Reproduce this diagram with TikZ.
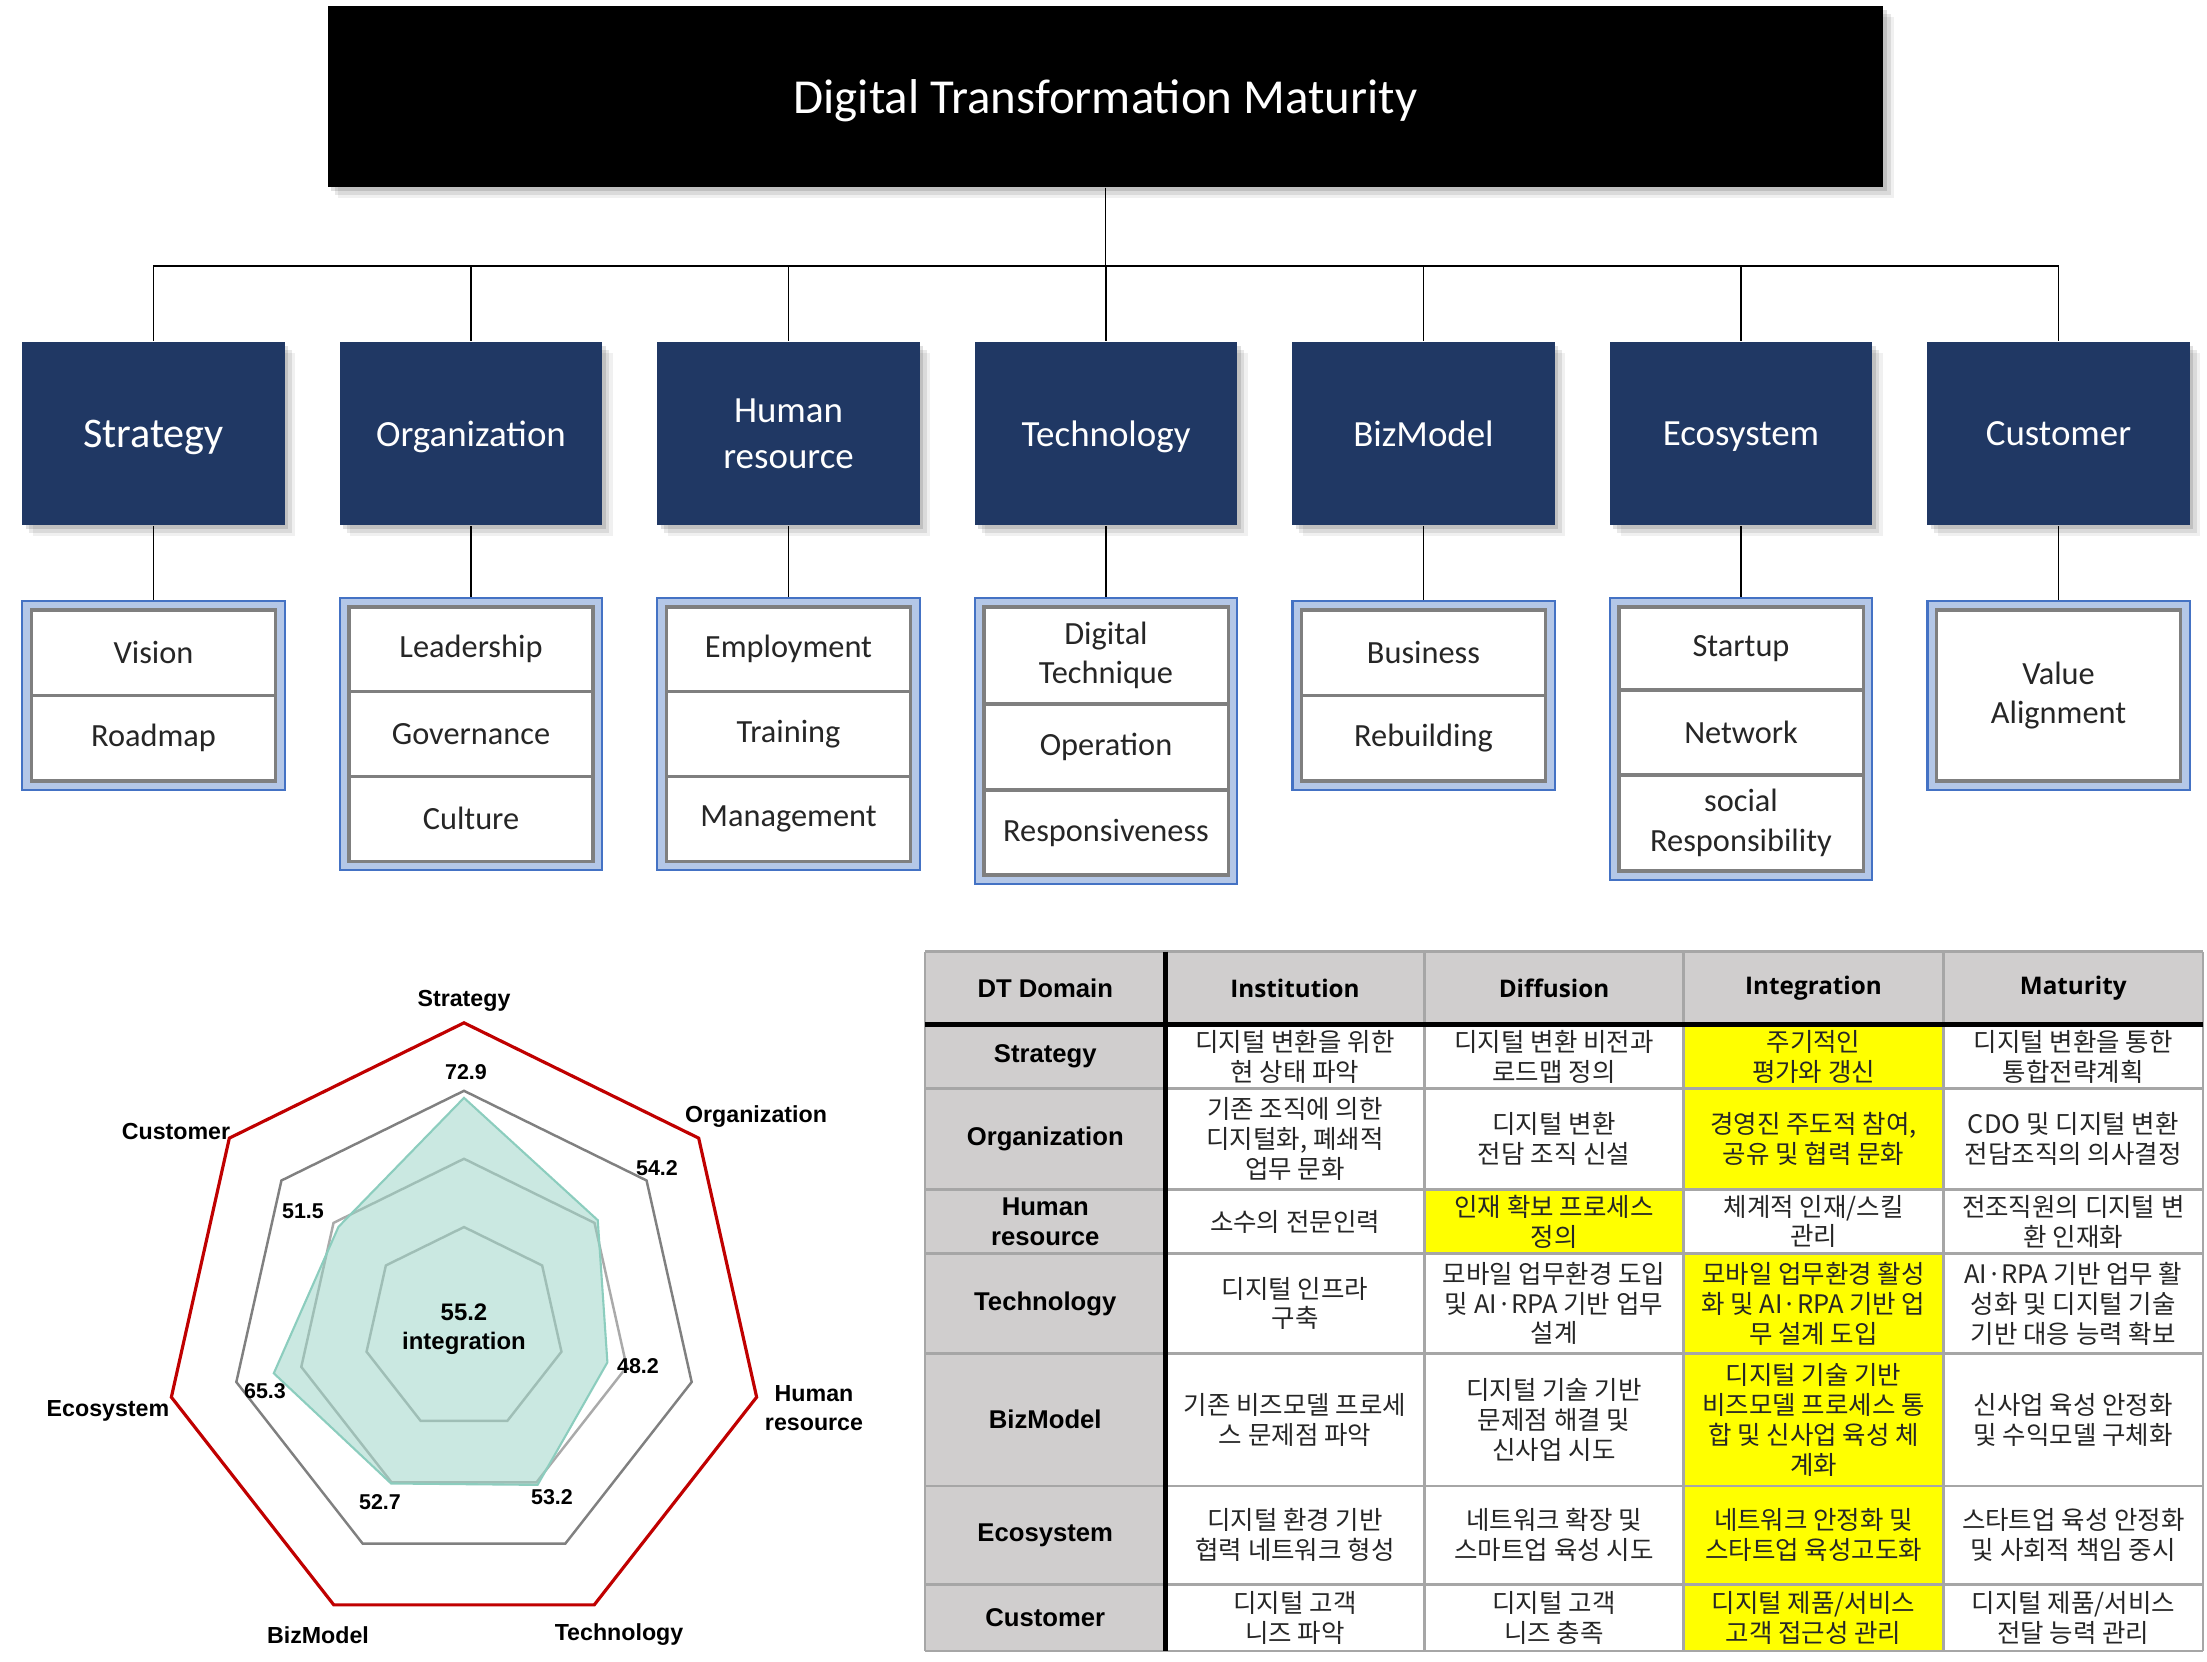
\documentclass[tikz,border=0pt]{standalone}
\usepackage{fontspec}
\setmainfont{Carlito}
\newfontfamily\farial{Liberation Sans}
\newfontfamily\fopen{Open Sans}
\newfontfamily\fkr{Noto Sans CJK KR}
\usetikzlibrary{calc,shadows}

\definecolor{navy}{RGB}{32,56,100}
\definecolor{frameblue}{RGB}{180,199,231}
\definecolor{edgeblue}{RGB}{68,114,196}
\definecolor{cellgray}{RGB}{127,127,127}
\definecolor{txtgray}{RGB}{38,38,38}
\definecolor{ringred}{RGB}{192,0,0}
\definecolor{ringgray}{RGB}{128,128,128}
\definecolor{ringlight}{RGB}{170,170,170}
\definecolor{tealfill}{RGB}{150,210,195}
\definecolor{tealedge}{RGB}{140,205,190}
\definecolor{headgray}{RGB}{208,206,206}
\definecolor{gridgray}{RGB}{166,166,166}
\definecolor{hiyellow}{RGB}{255,255,0}

\tikzset{
  softshadow/.style={
    drop shadow={shadow xshift=1.0pt,shadow yshift=-1.2pt,opacity=.12,fill=black},
    drop shadow={shadow xshift=2.0pt,shadow yshift=-2.2pt,opacity=.09,fill=black},
    drop shadow={shadow xshift=3.0pt,shadow yshift=-3.2pt,opacity=.06,fill=black}},
  topbox/.style={softshadow,fill=black,text=white,minimum width=15.55cm,
    minimum height=1.81cm,inner sep=0pt,text depth=0pt,
    font=\fontsize{13.9}{16}\selectfont},
  catbox/.style={softshadow,fill=navy,text=white,minimum width=2.62cm,
    minimum height=1.83cm,inner sep=0pt,align=center,text depth=0pt,
    font=\fontsize{10.5}{13.2}\selectfont},
  conn/.style={draw=black,line width=0.45pt},
  subframe/.style={fill=frameblue,draw=edgeblue,line width=0.6pt,
    minimum width=2.62cm,inner sep=0pt},
  cell/.style={fill=white,draw=cellgray,line width=0.9pt,minimum width=2.44cm,
    inner sep=0pt,align=center,text=txtgray,font=\fontsize{9.2}{11.2}\selectfont},
  axislabel/.style={inner sep=0pt,align=center,
    font=\farial\bfseries\fontsize{6.6}{8.2}\selectfont},
  valuelabel/.style={inner sep=0pt,font=\farial\bfseries\fontsize{6.1}{7.5}\selectfont},
  grid/.style={draw=gridgray,line width=0.8pt},
  heavy/.style={draw=black,line width=1.5pt},
  rowhead/.style={inner sep=0pt,align=center,
    font=\farial\bfseries\fontsize{7.3}{8.6}\selectfont},
  colhead/.style={inner sep=0pt,align=center,
    font=\fopen\bfseries\fontsize{6.9}{8.5}\selectfont},
  kr/.style={inner sep=0pt,align=center,text=txtgray,
    font=\fkr\fontsize{7.25}{8.5}\selectfont},
}

\begin{document}
\begin{tikzpicture}[x=0.01cm,y=-0.01cm]
\useasboundingbox (0,0) rectangle (2207,1661);

% ---------------- hierarchy ----------------
\node[topbox] (dtm) at (1105.5,96.5) {Digital Transformation Maturity};

\node[catbox,font=\fontsize{12}{14}\selectfont] (c1) at (153.5,433.5) {Strategy};
\node[catbox] (c2) at (471,433.5)  {Organization};
\node[catbox] (c3) at (788.5,433.5) {Human\\resource};
\node[catbox] (c4) at (1106,433.5) {Technology};
\node[catbox] (c5) at (1423.5,433.5) {BizModel};
\node[catbox] (c6) at (1741,433.5) {Ecosystem};
\node[catbox] (c7) at (2058.5,433.5) {Customer};

\foreach \c in {c1,c2,c3,c4,c5,c6,c7}
  \draw[conn] (dtm.south) -- ++(0,78) -| (\c.north);

% sub-item frames
\node[subframe,minimum height=1.89cm] (f1) at (153.5,695.5) {};
\node[subframe,minimum height=2.72cm] (f2) at (471,734) {};
\node[subframe,minimum height=2.72cm] (f3) at (788.5,734) {};
\node[subframe,minimum height=2.86cm] (f4) at (1106,741) {};
\node[subframe,minimum height=1.89cm] (f5) at (1423.5,695.5) {};
\node[subframe,minimum height=2.82cm] (f6) at (1741,739) {};
\node[subframe,minimum height=1.89cm] (f7) at (2058.5,695.5) {};

\foreach \i in {1,...,7}
  \draw[conn] (c\i.south) -- (f\i.north);

% Strategy
\node[cell,minimum height=0.855cm] (s1a) at (153.5,652.75) {Vision};
\node[cell,minimum height=0.855cm] (s1b) at (153.5,738.25) {Roadmap};
% Organization
\node[cell,minimum height=0.847cm] (s2a) at (471,649.3) {Leadership};
\node[cell,minimum height=0.847cm] (s2b) at (471,734) {Governance};
\node[cell,minimum height=0.847cm] (s2c) at (471,818.7) {Culture};
% Human resource
\node[cell,minimum height=0.847cm] (s3a) at (788.5,649.3) {Employment};
\node[cell,minimum height=0.847cm] (s3b) at (788.5,734) {Training};
\node[cell,minimum height=0.847cm] (s3c) at (788.5,818.7) {Management};
% Technology
\node[cell,minimum height=0.97cm] (s4a) at (1106,655.5) {Digital\\Technique};
\node[cell,minimum height=0.86cm] (s4b) at (1106,747) {Operation};
\node[cell,minimum height=0.85cm] (s4c) at (1106,832.5) {Responsiveness};
% BizModel
\node[cell,minimum height=0.855cm] (s5a) at (1423.5,652.75) {Business};
\node[cell,minimum height=0.855cm] (s5b) at (1423.5,738.25) {Rebuilding};
% Ecosystem
\node[cell,minimum height=0.83cm] (s6a) at (1741,648.5) {Startup};
\node[cell,minimum height=0.85cm] (s6b) at (1741,732.5) {Network};
\node[cell,minimum height=0.96cm] (s6c) at (1741,823) {social\\Responsibility};
% Customer
\node[cell,minimum height=1.71cm] (s7a) at (2058.5,695.5) {Value\\Alignment};

% ---------------- radar chart ----------------
\coordinate (rc) at (464,1329);
\begin{scope}[shift={(rc)},x=3cm,y=3.06cm]
  \draw[ringred,line width=0.9pt] (90:1)
    \foreach \k in {1,...,6} { -- ({90-360*\k/7}:1) } -- cycle;
  \draw[ringgray,line width=0.7pt] (90:0.778)
    \foreach \k in {1,...,6} { -- ({90-360*\k/7}:0.778) } -- cycle;
  \draw[ringlight,line width=0.7pt] (90:0.556)
    \foreach \k in {1,...,6} { -- ({90-360*\k/7}:0.556) } -- cycle;
  \draw[ringlight,line width=0.7pt] (90:0.333)
    \foreach \k in {1,...,6} { -- ({90-360*\k/7}:0.333) } -- cycle;
  \filldraw[fill=tealfill,fill opacity=0.5,draw=tealedge,line width=0.6pt]
    (90:0.755) -- (38.571:0.57) -- (-12.857:0.49) -- (-64.286:0.565)
    -- (-115.714:0.56) -- (-167.143:0.65) -- (141.429:0.535) -- cycle;
\end{scope}

\node[axislabel] (ax1) at (464,1001) {Strategy};
\node[axislabel] (ax2) at (756,1117) {Organization};
\node[axislabel] (ax3) at (814,1408) {Human\\resource};
\node[axislabel] (ax4) at (619,1635) {Technology};
\node[axislabel] (ax5) at (318,1635) {BizModel};
\node[axislabel] (ax6) at (108,1411) {Ecosystem};
\node[axislabel] (ax7) at (176,1131) {Customer};

\node[valuelabel] (v1) at (466,1072) {72.9};
\node[valuelabel] (v2) at (657,1168) {54.2};
\node[valuelabel] (v3) at (638,1366) {48.2};
\node[valuelabel] (v4) at (552,1497) {53.2};
\node[valuelabel] (v5) at (380,1502) {52.7};
\node[valuelabel] (v6) at (265,1391) {65.3};
\node[valuelabel] (v7) at (303,1211) {51.5};

\node[axislabel,font=\farial\bfseries\fontsize{6.8}{8.3}\selectfont] (ctr) at (464,1329) {55.2\\integration};

% ---------------- table ----------------
\fill[headgray] (925,951.5) rectangle (2203,1024.5);
\fill[headgray] (925,1024.5) rectangle (1165.5,1651);
\fill[hiyellow] (1683.5,1024.5) rectangle (1943.5,1189.5);
\fill[hiyellow] (1683.5,1253.5) rectangle (1943.5,1651);
\fill[hiyellow] (1424.5,1189.5) rectangle (1683.5,1253.5);

\foreach \x in {925,1424.5,1683.5,1943.5,2203}
  \draw[grid] (\x,951.5) -- (\x,1651);
\foreach \y in {951.5,1088.5,1189.5,1253.5,1353.5,1486,1584.5,1651}
  \draw[grid] (925,\y) -- (2203,\y);
\draw[heavy] (925,1024.5) -- (2203,1024.5);
\draw[heavy] (1165.5,951.5) -- (1165.5,1651);

% header row
\node[rowhead] (h0) at (1045.25,988) {DT Domain};
\node[colhead] (h1) at (1295,988) {Institution};
\node[colhead] (h2) at (1554,988) {Diffusion};
\node[colhead] (h3) at (1813.5,988) {Integration};
\node[colhead] (h4) at (2073.25,988) {Maturity};

% row heads
\node[rowhead] (r1) at (1045.25,1056.5) {Strategy};
\node[rowhead] (r2) at (1045.25,1139) {Organization};
\node[rowhead] (r3) at (1045.25,1221.5) {Human\\resource};
\node[rowhead] (r4) at (1045.25,1303.5) {Technology};
\node[rowhead] (r5) at (1045.25,1419.75) {BizModel};
\node[rowhead] (r6) at (1045.25,1535.25) {Ecosystem};
\node[rowhead] (r7) at (1045.25,1617.75) {Customer};

% Institution
\node[kr] (t11) at (1295,1056.5) {디지털 변환을 위한\\현 상태 파악};
\node[kr] (t21) at (1295,1139) {기존 조직에 의한\\디지털화, 폐쇄적\\업무 문화};
\node[kr] (t31) at (1295,1221.5) {소수의 전문인력};
\node[kr] (t41) at (1295,1303.5) {디지털 인프라\\구축};
\node[kr] (t51) at (1295,1419.75) {기존 비즈모델 프로세\\스 문제점 파악};
\node[kr] (t61) at (1295,1535.25) {디지털 환경 기반\\협력 네트워크 형성};
\node[kr] (t71) at (1295,1617.75) {디지털 고객\\니즈 파악};

% Diffusion
\node[kr] (t12) at (1554,1056.5) {디지털 변환 비전과\\로드맵 정의};
\node[kr] (t22) at (1554,1139) {디지털 변환\\전담 조직 신설};
\node[kr] (t32) at (1554,1221.5) {인재 확보 프로세스\\정의};
\node[kr] (t42) at (1554,1303.5) {모바일 업무환경 도입\\및 AI·RPA 기반 업무\\설계};
\node[kr] (t52) at (1554,1419.75) {디지털 기술 기반\\문제점 해결 및\\신사업 시도};
\node[kr] (t62) at (1554,1535.25) {네트워크 확장 및\\스마트업 육성 시도};
\node[kr] (t72) at (1554,1617.75) {디지털 고객\\니즈 충족};

% Integration
\node[kr] (t13) at (1813.5,1056.5) {주기적인\\평가와 갱신};
\node[kr] (t23) at (1813.5,1139) {경영진 주도적 참여,\\공유 및 협력 문화};
\node[kr] (t33) at (1813.5,1221.5) {체계적 인재/스킬\\관리};
\node[kr] (t43) at (1813.5,1303.5) {모바일 업무환경 활성\\화 및 AI·RPA 기반 업\\무 설계 도입};
\node[kr] (t53) at (1813.5,1419.75) {디지털 기술 기반\\비즈모델 프로세스 통\\합 및 신사업 육성 체\\계화};
\node[kr] (t63) at (1813.5,1535.25) {네트워크 안정화 및\\스타트업 육성고도화};
\node[kr] (t73) at (1813.5,1617.75) {디지털 제품/서비스\\고객 접근성 관리};

% Maturity
\node[kr] (t14) at (2073.25,1056.5) {디지털 변환을 통한\\통합전략계획};
\node[kr] (t24) at (2073.25,1139) {CDO 및 디지털 변환\\전담조직의 의사결정};
\node[kr] (t34) at (2073.25,1221.5) {전조직원의 디지털 변\\환 인재화};
\node[kr] (t44) at (2073.25,1303.5) {AI·RPA 기반 업무 활\\성화 및 디지털 기술\\기반 대응 능력 확보};
\node[kr] (t54) at (2073.25,1419.75) {신사업 육성 안정화\\및 수익모델 구체화};
\node[kr] (t64) at (2073.25,1535.25) {스타트업 육성 안정화\\및 사회적 책임 중시};
\node[kr] (t74) at (2073.25,1617.75) {디지털 제품/서비스\\전달 능력 관리};

\end{tikzpicture}
\end{document}
